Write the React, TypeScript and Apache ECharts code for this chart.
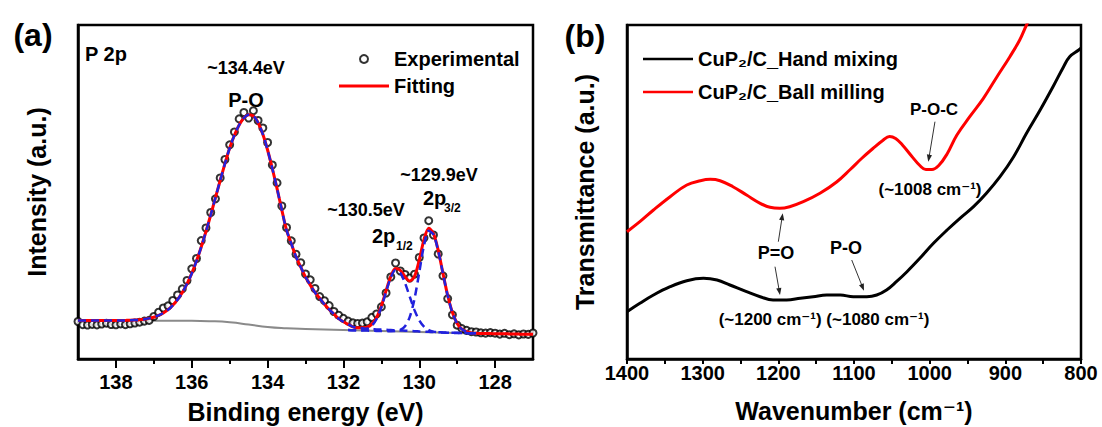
import React, { useEffect, useRef } from 'react';
import * as echarts from 'echarts';

const FONT = '"Liberation Sans", Arial, Helvetica, "DejaVu Sans", sans-serif';

// ---------- Panel (a): XPS P 2p ----------
const ENERGY = [139, 138.875, 138.75, 138.625, 138.5, 138.375, 138.25, 138.125, 138, 137.875, 137.75, 137.625, 137.5, 137.375, 137.25, 137.125, 137, 136.875, 136.75, 136.625, 136.5, 136.375, 136.25, 136.125, 136, 135.875, 135.75, 135.625, 135.5, 135.375, 135.25, 135.125, 135, 134.875, 134.75, 134.625, 134.5, 134.375, 134.25, 134.125, 134, 133.875, 133.75, 133.625, 133.5, 133.375, 133.25, 133.125, 133, 132.875, 132.75, 132.625, 132.5, 132.375, 132.25, 132.125, 132, 131.875, 131.75, 131.625, 131.5, 131.375, 131.25, 131.125, 131, 130.875, 130.75, 130.625, 130.5, 130.375, 130.25, 130.125, 130, 129.875, 129.75, 129.625, 129.5, 129.375, 129.25, 129.125, 129, 128.875, 128.75, 128.625, 128.5, 128.375, 128.25, 128.125, 128, 127.875, 127.75, 127.625, 127.5, 127.375, 127.25, 127.125, 127];

const EXPERIMENTAL = [37.5, 34.3, 34.0, 34.6, 34.1, 35.0, 35.8, 34.5, 34.2, 35.1,
  34.4, 35.2, 36.0, 36.8, 37.9, 38.6, 42.5, 46.8, 51.0, 53.2,
  58.5, 64.0, 70.1, 78.5, 90.2, 100.5, 118.4, 131.0, 146.5, 160.2,
  181.0, 199.5, 214.2, 227.0, 240.1, 246.5, 241.0, 248.3, 238.5, 231.0,
  216.5, 194.0, 176.1, 153.0, 131.5, 118.2, 104.8, 96.3, 85.0, 79.2,
  70.5, 62.4, 58.3, 53.4, 47.5, 43.8, 40.6, 37.9, 36.2, 35.5,
  35.9, 37.2, 41.6, 45.0, 52.1, 66.0, 82.0, 96.0, 88.0, 84.5,
  81.0, 84.8, 101.5, 121.0, 138.3, 124.0, 105.0, 83.2, 60.4, 44.2,
  33.8, 30.4, 28.6, 27.3, 27.0, 26.2, 25.9, 26.4, 25.8, 24.9,
  25.7, 24.3, 25.2, 24.1, 25.0, 24.6, 26.0];

const FITTING = [38.5, 38.5, 38.5, 38.5, 38.5, 38.5, 38.5, 38.5, 38.5, 38.5,
  38.6, 38.7, 38.9, 39.2, 39.8, 40.6, 41.8, 43.6, 46, 49.3,
  53.7, 59.3, 66.4, 75.2, 85.6, 98, 112, 127.5, 144, 161.4,
  178.5, 195.3, 211, 223.8, 234, 241, 244.2, 243, 236.3, 224.7,
  209, 190.5, 170.3, 149.2, 128.8, 115.5, 102.2, 92, 82, 74,
  66.6, 60.7, 54.8, 49.5, 45, 40.3, 37.2, 34.7, 32.2, 31.2,
  31.2, 31.9, 34.9, 41.5, 53.1, 68.4, 82.7, 90.4, 88.7, 82.3,
  78, 82.7, 98.9, 119.4, 130.8, 125.5, 108.6, 85.7, 63.5, 46.4,
  35.6, 29.8, 27.3, 26.1, 25.7, 25.6, 25.5, 25.4, 25.3, 25.2,
  25.2, 25.1, 25, 24.9, 24.8, 24.8, 24.7];

// P-O component on ENERGY[0..84]
const PO_COMPONENT = [38.5, 38.5, 38.5, 38.5, 38.5, 38.5, 38.5, 38.5, 38.5, 38.5,
  38.6, 38.7, 38.9, 39.2, 39.8, 40.6, 41.8, 43.6, 46, 49.3,
  53.7, 59.3, 66.4, 75.2, 85.6, 98, 112, 127.5, 144, 161.4,
  178.5, 195.3, 211, 223.8, 234, 241, 244.2, 243, 236.3, 224.7,
  209, 190.5, 170.3, 149.2, 128.8, 115.5, 102.2, 92, 82, 74,
  66.6, 60.7, 54.8, 49.5, 45, 40.3, 37.2,
  34.7, 32.2, 31.2, 30.7, 30.2, 29.9, 29.6, 29.4, 29.2, 29, 28.7, 28.5, 28.3, 28.1,
  27.8, 27.6, 27.4, 27.2, 26.9, 26.8, 26.6, 26.5, 26.3, 26.2, 26.0, 25.9, 25.8, 25.7];

const ENERGY_2P = [131.875, 131.75, 131.625, 131.5, 131.375, 131.25, 131.125, 131, 130.875, 130.75, 130.625, 130.5, 130.375, 130.25, 130.125, 130, 129.875, 129.75, 129.625, 129.5, 129.375, 129.25, 129.125, 129, 128.875, 128.75, 128.625, 128.5];
const P2P_12 = [28.9, 28.75, 28.7, 29, 30.1, 33.25, 40, 51.7, 67.1, 81.45, 88.9, 86.1, 76, 62.25, 48.9, 38.7, 32.4, 28.95, 27.4, 26.7, 26.4, 26.25, 26.1, 26, 25.9, 25.8, 25.7, 25.65];
const P2P_32 = [28.9, 28.75, 28.6, 28.5, 28.4, 28.25, 28.1, 28, 27.9, 27.85, 28, 29.1, 32.8, 42.15, 60.2, 86.6, 113.4, 128.15, 124.4, 108.1, 85.5, 63.25, 46.2, 35.4, 29.7, 27.2, 26.1, 25.75];

const BG_ENERGY = [139, 138, 137, 136, 135.5, 135, 134.5, 134, 133.5, 133, 132, 131, 130, 129, 128, 127];
const BACKGROUND = [38.3, 38.3, 38.2, 38.2, 37.8, 36.7, 34.5, 32, 30.7, 30, 29, 28, 27, 26, 25.3, 24.7];

const XPS_TICKS = [128, 138, 2]; // min, max, step of labelled ticks

// ---------- Panel (b): FTIR ----------
const WAVE_HAND = [1400, 1383, 1365, 1343, 1321, 1299, 1281, 1264, 1242, 1224, 1207, 1189, 1171, 1154, 1136, 1118, 1101, 1083, 1070, 1057, 1044, 1030, 1013, 995, 977, 960, 942, 925, 907, 889, 872, 854, 837, 823, 815, 803, 800];
const TRANS_HAND = [47.3, 55.7, 64, 72.3, 78.3, 80.7, 79, 74, 67.3, 62.3, 59, 59, 60.7, 62.3, 64, 64, 62.3, 62.3, 64, 69, 77.3, 87.3, 100.7, 115.7, 129, 140.7, 152.3, 165.7, 182.3, 202.3, 225.7, 249, 272.3, 292.3, 302.3, 309, 311];

const WAVE_BALL = [1400, 1383, 1365, 1343, 1321, 1303, 1290, 1277, 1260, 1242, 1224, 1211, 1198, 1185, 1167, 1145, 1123, 1105, 1090, 1075, 1062, 1053, 1045, 1036, 1024, 1013, 1005, 997, 988, 977, 964, 947, 929, 911, 894, 881, 872, 860];
const TRANS_BALL = [127.3, 137.3, 149, 162.3, 174, 178.3, 179.7, 178.3, 172.3, 164, 155.7, 151.7, 150.7, 152.3, 157.3, 165.7, 177, 189.5, 200.5, 210.5, 218.5, 222.5, 220.5, 214, 203, 193.5, 189.5, 189.5, 193.5, 205, 224, 242.3, 260.7, 282.3, 302.3, 319, 334, 352];

const FTIR_TICKS = [800, 1400, 100];

// arrows in data coordinates of panel (b): [tail, tip]
const ARROWS: number[][][] = [
  [[993, 237.3], [1001.8, 197.3]],
  [[1200, 117.3], [1194.2, 145.7]],
  [[1204.4, 92.3], [1197.8, 64]],
  [[1103, 99], [1086.8, 68.3]],
];

const HAND = 'CuP\u2082/C_Hand mixing';
const BALL = 'CuP\u2082/C_Ball milling';

const zip = (xs: number[], ys: number[]) => ys.map((y, i) => [xs[i], y]);

const txt = (text: string, x: number, y: number, size: number, align = 'center') => ({
  type: 'text',
  x,
  y,
  silent: true,
  style: {
    text,
    fill: '#000',
    fontSize: size,
    fontWeight: 'bold',
    fontFamily: FONT,
    textAlign: align,
    textVerticalAlign: 'middle',
  },
});

function makeArrow(p1: number[], p2: number[]) {
  const dx = p2[0] - p1[0];
  const dy = p2[1] - p1[1];
  const len = Math.sqrt(dx * dx + dy * dy) || 1;
  const ux = dx / len;
  const uy = dy / len;
  const nx = -uy;
  const ny = ux;
  const hl = 7;
  const hw = 2.6;
  return [
    {
      type: 'line',
      silent: true,
      shape: { x1: p1[0], y1: p1[1], x2: p2[0] - ux * 5, y2: p2[1] - uy * 5 },
      style: { stroke: '#333', lineWidth: 1 },
    },
    {
      type: 'polygon',
      silent: true,
      shape: {
        points: [
          [p2[0], p2[1]],
          [p2[0] - ux * hl + nx * hw, p2[1] - uy * hl + ny * hw],
          [p2[0] - ux * hl - nx * hw, p2[1] - uy * hl - ny * hw],
        ],
      },
      style: { fill: '#222' },
    },
  ];
}

const LINE_ICON_3 = 'path://M0,0L50,0L50,3L0,3Z';
const LINE_ICON_25 = 'path://M0,0L50,0L50,2.6L0,2.6Z';

export default function App() {
  const ref = useRef<HTMLDivElement>(null);

  useEffect(() => {
    const chart = echarts.init(ref.current!, null, { renderer: 'svg' });
    const axisText = { color: '#000', fontWeight: 'bold', fontFamily: FONT, fontSize: 20 };
    const nameText = { color: '#000', fontWeight: 'bold', fontFamily: FONT, fontSize: 25 };
    const axisLine = { show: true, lineStyle: { color: '#000', width: 2.5 } };
    const plain = (v: number) => String(v);

    chart.setOption({
      animation: false,
      backgroundColor: '#fff',
      grid: [
        { left: 78, top: 25, width: 455, height: 334, show: true, borderColor: '#000', borderWidth: 2.5, outerBoundsMode: 'none' },
        { left: 78 + 455 / 12, top: 25, width: 455 * 10 / 12, height: 334, outerBoundsMode: 'none' },
        { left: 627, top: 25, width: 454, height: 334, show: true, borderColor: '#000', borderWidth: 2.5, outerBoundsMode: 'none' },
      ],
      legend: [
        {
          data: [
            { name: 'Experimental', icon: 'emptyCircle' },
            { name: 'Fitting', icon: LINE_ICON_3 },
          ],
          orient: 'vertical',
          left: 334,
          top: 43,
          itemWidth: 50,
          itemHeight: 8,
          itemGap: 5,
          selectedMode: false,
          textStyle: { ...axisText, lineHeight: 22 },
        },
        {
          data: [
            { name: HAND, icon: LINE_ICON_25 },
            { name: BALL, icon: LINE_ICON_25 },
          ],
          orient: 'vertical',
          left: 638,
          top: 43,
          itemWidth: 50,
          itemHeight: 8,
          itemGap: 11,
          selectedMode: false,
          textStyle: { ...axisText, lineHeight: 22 },
        },
      ],
      xAxis: [
        {
          gridIndex: 0, type: 'value', min: 127, max: 139, inverse: true,
          axisLine, axisTick: { show: false }, axisLabel: { show: false }, splitLine: { show: false },
          name: 'Binding energy (eV)', nameLocation: 'middle', nameGap: 40, nameTextStyle: nameText,
        },
        {
          gridIndex: 1, type: 'value', min: XPS_TICKS[0], max: XPS_TICKS[1], interval: XPS_TICKS[2], inverse: true,
          axisLine: { show: false },
          axisTick: { show: true, length: 9, lineStyle: { color: '#000', width: 2 } },
          minorTick: { show: true, splitNumber: 2, length: 5, lineStyle: { color: '#000', width: 2 } },
          axisLabel: { ...axisText, margin: 13, formatter: plain },
          splitLine: { show: false },
        },
        {
          gridIndex: 2, type: 'value', min: FTIR_TICKS[0], max: FTIR_TICKS[1], interval: FTIR_TICKS[2], inverse: true,
          axisLine,
          axisTick: { show: true, length: 5, lineStyle: { color: '#000', width: 2 } },
          minorTick: { show: true, splitNumber: 2, length: 5, lineStyle: { color: '#000', width: 2 } },
          axisLabel: { ...axisText, margin: 4, formatter: plain },
          splitLine: { show: false },
          name: 'Wavenumber (cm\u207B\u00B9)', nameLocation: 'middle', nameGap: 39, nameTextStyle: nameText,
        },
      ],
      yAxis: [
        {
          gridIndex: 0, type: 'value', min: 0, max: 334,
          axisLine, axisTick: { show: false }, axisLabel: { show: false }, splitLine: { show: false },
          name: 'Intensity (a.u.)', nameLocation: 'middle', nameGap: 29, nameTextStyle: nameText,
        },
        { gridIndex: 1, type: 'value', min: 0, max: 334, show: false },
        {
          gridIndex: 2, type: 'value', min: 0, max: 334,
          axisLine, axisTick: { show: false }, axisLabel: { show: false }, splitLine: { show: false },
          name: 'Transmittance (a.u.)', nameLocation: 'middle', nameGap: 30, nameTextStyle: nameText,
        },
      ],
      series: [
        {
          name: 'Background', type: 'line', xAxisIndex: 0, yAxisIndex: 0, data: zip(BG_ENERGY, BACKGROUND),
          symbol: 'none', smooth: true, lineStyle: { color: '#8a8a8a', width: 2 }, z: 1, silent: true,
        },
        {
          name: 'Experimental', type: 'scatter', xAxisIndex: 0, yAxisIndex: 0, data: zip(ENERGY, EXPERIMENTAL),
          symbol: 'emptyCircle', symbolSize: 7, itemStyle: { color: '#000', borderColor: '#000', borderWidth: 2 }, z: 2, silent: true,
        },
        {
          name: 'Fitting', type: 'line', xAxisIndex: 0, yAxisIndex: 0, data: zip(ENERGY, FITTING),
          symbol: 'none', smooth: 0.3, lineStyle: { color: '#ff0000', width: 3 }, itemStyle: { color: '#ff0000' }, z: 3, silent: true,
        },
        {
          name: 'P-O component', type: 'line', xAxisIndex: 0, yAxisIndex: 0, data: zip(ENERGY, PO_COMPONENT),
          symbol: 'none', smooth: 0.3, lineStyle: { color: '#2222dd', width: 2.5, type: [8, 5] }, z: 4, silent: true,
        },
        {
          name: '2p1/2 component', type: 'line', xAxisIndex: 0, yAxisIndex: 0, data: zip(ENERGY_2P, P2P_12),
          symbol: 'none', smooth: 0.3, lineStyle: { color: '#2222dd', width: 2.5, type: [8, 5] }, z: 4, silent: true,
        },
        {
          name: '2p3/2 component', type: 'line', xAxisIndex: 0, yAxisIndex: 0, data: zip(ENERGY_2P, P2P_32),
          symbol: 'none', smooth: 0.3, lineStyle: { color: '#2222dd', width: 2.5, type: [8, 5] }, z: 4, silent: true,
        },
        {
          name: HAND, type: 'line', xAxisIndex: 2, yAxisIndex: 2, data: zip(WAVE_HAND, TRANS_HAND),
          symbol: 'none', smooth: 0.4, lineStyle: { color: '#000', width: 3 }, itemStyle: { color: '#000' }, silent: true,
        },
        {
          name: BALL, type: 'line', xAxisIndex: 2, yAxisIndex: 2, data: zip(WAVE_BALL, TRANS_BALL),
          symbol: 'none', smooth: 0.4, lineStyle: { color: '#ff0000', width: 3 }, itemStyle: { color: '#ff0000' }, silent: true,
        },
      ],
    });

    const toPx = (p: number[]) => chart.convertToPixel({ xAxisIndex: 2, yAxisIndex: 2 }, p) as number[];
    const arrows = ARROWS.flatMap(([a, b]) => makeArrow(toPx(a), toPx(b)));

    chart.setOption({
      graphic: [
        txt('(a)', 33, 35, 32),
        txt('(b)', 585, 36, 32),
        txt('P 2p', 85, 54, 20, 'left'),
        txt('~134.4eV', 246, 68, 18),
        txt('P-O', 246, 100, 20),
        txt('~129.9eV', 439, 175, 18),
        txt('~130.5eV', 366, 210, 18),
        txt('2p', 372, 236, 20, 'left'),
        txt('1/2', 396, 246, 12, 'left'),
        txt('2p', 423, 198, 20, 'left'),
        txt('3/2', 444, 208, 12, 'left'),
        txt('P-O-C', 934, 109, 17),
        txt('(~1008 cm\u207B\u00B9)', 930, 189, 17),
        txt('P=O', 776, 253, 18),
        txt('P-O', 846, 248, 18),
        txt('(~1200 cm\u207B\u00B9) (~1080 cm\u207B\u00B9)', 824, 319, 17),
        ...arrows,
      ],
    });

    return () => chart.dispose();
  }, []);

  return (
    <div
      ref={ref}
      style={{ position: 'fixed', left: 0, top: 0, width: 1102, height: 427, background: '#fff' }}
    />
  );
}
